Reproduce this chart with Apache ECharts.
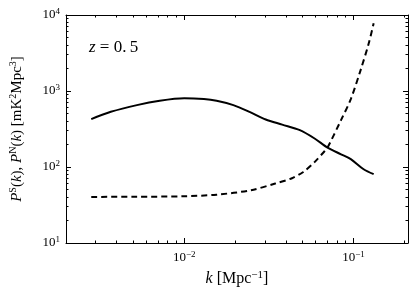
<!DOCTYPE html>
<html>
<head>
<meta charset="utf-8">
<script src="https://cdn.jsdelivr.net/npm/echarts@6/dist/echarts.min.js"></script>
<style>html,body{margin:0;padding:0;background:#fff;}#c{width:416px;height:297px;}</style>
</head>
<body>
<div id="c"></div>
<script>
// k values [Mpc^-1] and power spectra [mK^2 Mpc^3]
const kSignal = [0.00282,0.00368,0.00525,0.00716,0.0100,0.01306,0.01553,0.0195,0.0243,0.0303,0.0379,0.0482,0.0589,0.0707,0.0844,0.0964,0.1148,0.1316];
const pSignal = [427,532,652,743,800,782,743,652,532,422,361,305,237,178,147,127,93.5,80.4];
const kNoise = [0.00282,0.00513,0.0100,0.0155,0.0248,0.0345,0.0433,0.0505,0.0589,0.0676,0.0700,0.0844,0.0964,0.1102,0.1231,0.1316];
const pNoise = [40.4,40.6,41.2,43.2,49.5,60.6,71.2,86.1,116,162.5,177,414,782,1885,4240,7780];
const xMajorTicks = [0.01, 0.1];
const yMajorTicks = [10, 100, 1000, 10000];
const xRange = [0.002, 0.21];
const yRange = [10, 10000];

const L = Math.log10;
function minorTicks(range) {
  const out = [];
  for (let e = Math.floor(L(range[0])); e <= Math.ceil(L(range[1])); e++) {
    for (let m = 2; m <= 9; m++) {
      const v = m * Math.pow(10, e);
      if (v >= range[0] * 0.999 && v <= range[1] * 1.001) out.push(L(v));
    }
  }
  return out;
}
const xLo = L(xRange[0]), xHi = L(xRange[1]), yLo = L(yRange[0]), yHi = L(yRange[1]);
const serif = 'Liberation Serif';
const rich = {
  b: {fontFamily: serif, fontSize: 13, color: '#000'},
  s: {fontFamily: serif, fontSize: 9, color: '#000', padding: [0, 0, 7, 0]}
};
const supFmt = v => '{b|10}{s|' + String(Math.round(v)).replace('-', '\u2212') + '}';
const tickStyle = {color: '#000', width: 1};

function mainAxis(isX, first) {
  const maj = (isX ? xMajorTicks : yMajorTicks).map(L);
  return {
    type: 'value', min: isX ? xLo : yLo, max: isX ? xHi : yHi,
    position: isX ? (first ? 'bottom' : 'top') : (first ? 'left' : 'right'),
    splitLine: {show: false},
    axisLine: {show: true, onZero: false, lineStyle: {color: '#000', width: 1}},
    axisTick: {show: true, inside: true, length: 5, customValues: maj, lineStyle: tickStyle},
    axisLabel: first ? {show: true, customValues: maj, formatter: supFmt, rich: rich, margin: isX ? 7 : 6} : {show: false}
  };
}
const xAxes = [mainAxis(true, true), mainAxis(true, false)];
const yAxes = [mainAxis(false, true), mainAxis(false, false)];
const nameRich = {
  i: {fontFamily: serif, fontSize: 15, fontStyle: 'italic', color: '#000'},
  n: {fontFamily: serif, fontSize: 15, color: '#000'},
  s: {fontFamily: serif, fontSize: 10, color: '#000', padding: [0, 0, 8, 0]}
};
const xNameRich = {
  i: {fontFamily: serif, fontSize: 16, fontStyle: 'italic', color: '#000'},
  n: {fontFamily: serif, fontSize: 16, color: '#000'},
  s: {fontFamily: serif, fontSize: 11, color: '#000', padding: [0, 0, 8, 0]}
};
Object.assign(xAxes[0], {
  name: '{i|k}{n| [Mpc}{s|\u22121}{n|]}', nameLocation: 'middle', nameGap: 16,
  nameTextStyle: {rich: xNameRich}
});
Object.assign(yAxes[0], {
  name: '{i|P}{s|S}{n|(}{i|k}{n|), }{i|P}{s|N}{n|(}{i|k}{n|) [mK}{s|2}{n|Mpc}{s|3}{n|]}',
  nameLocation: 'middle', nameGap: 40, nameRotate: 90,
  nameTextStyle: {rich: nameRich}
});

const MINOR = 2.5;
const crisp = v => Math.round(v - 0.5) + 0.5;
function tickLine(x1, y1, x2, y2) {
  return {type: 'line', shape: {x1: x1, y1: y1, x2: x2, y2: y2}, style: {stroke: '#000', lineWidth: 1}};
}
const minorX = {
  type: 'custom', xAxisIndex: 0, yAxisIndex: 0, silent: true, clip: false,
  data: minorTicks(xRange).map(v => [v, yLo]),
  renderItem: (params, api) => {
    const b = api.coord([api.value(0), yLo]);
    const t = api.coord([api.value(0), yHi]);
    const x = crisp(b[0]);
    return {type: 'group', children: [tickLine(x, b[1], x, b[1] - MINOR), tickLine(x, t[1], x, t[1] + MINOR)]};
  }
};
const minorY = {
  type: 'custom', xAxisIndex: 0, yAxisIndex: 0, silent: true, clip: false,
  data: minorTicks(yRange).map(v => [xLo, v]),
  renderItem: (params, api) => {
    const l = api.coord([xLo, api.value(1)]);
    const r = api.coord([xHi, api.value(1)]);
    const y = crisp(l[1]);
    return {type: 'group', children: [tickLine(l[0], y, l[0] + MINOR, y), tickLine(r[0], y, r[0] - MINOR, y)]};
  }
};

const chart = echarts.init(document.getElementById('c'), null, {renderer: 'canvas'});
chart.setOption({
  animation: false,
  backgroundColor: '#fff',
  grid: {left: 60, right: 8, top: 15, bottom: 54, containLabel: false},
  xAxis: xAxes,
  yAxis: yAxes,
  graphic: [{
    type: 'text', left: 89, top: 39,
    style: {
      text: '{i|z}{n| = 0.\u20095}',
      rich: {
        i: {fontFamily: serif, fontSize: 17, fontStyle: 'italic', fill: '#000'},
        n: {fontFamily: serif, fontSize: 17, fill: '#000'}
      }
    }
  }],
  series: [
    {type: 'line', xAxisIndex: 0, yAxisIndex: 0, showSymbol: false, smooth: 0.3,
     data: kSignal.map((k, i) => [L(k), L(pSignal[i])]),
     lineStyle: {color: '#000', width: 2}},
    {type: 'line', xAxisIndex: 0, yAxisIndex: 0, showSymbol: false, smooth: 0.3,
     data: kNoise.map((k, i) => [L(k), L(pNoise[i])]),
     lineStyle: {color: '#000', width: 2, type: [6, 4]}},
    minorX,
    minorY
  ]
});
</script>
</body>
</html>
